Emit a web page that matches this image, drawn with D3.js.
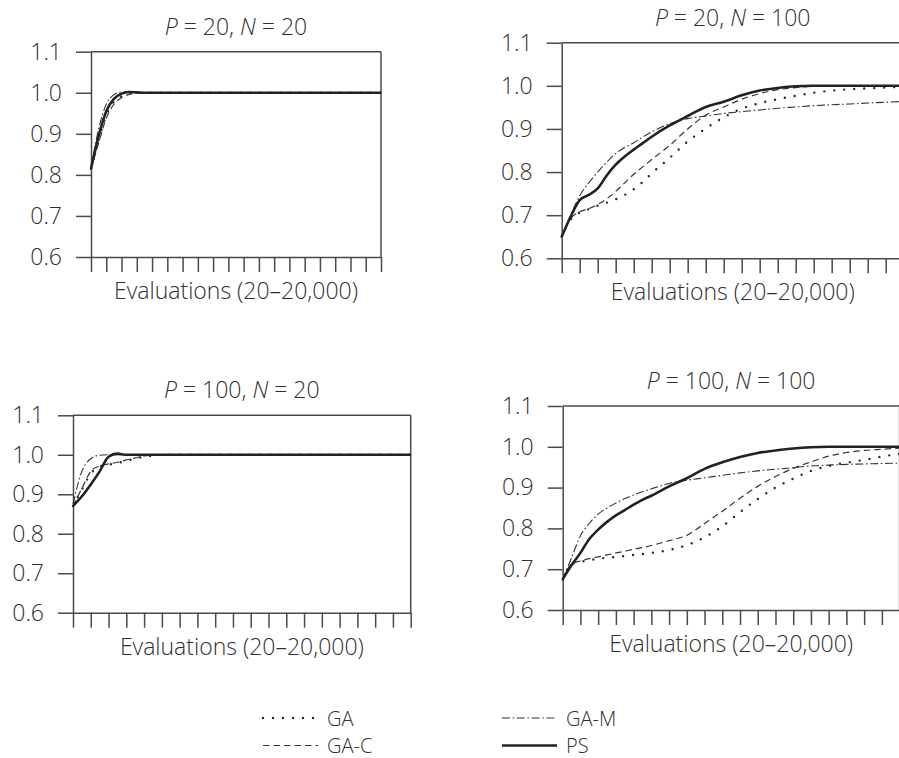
<!DOCTYPE html>
<html>
<head>
<meta charset="utf-8">
<script src="https://cdn.jsdelivr.net/npm/d3@7"></script>
<style>
  html, body { margin: 0; padding: 0; background: #fff; }
  svg { display: block; }
  text { font-family: "Open Sans", "Noto Sans", sans-serif; font-weight: 300; fill: #303030; }
</style>
</head>
<body>
<svg id="chart" width="899" height="758"></svg>
<script>
// Checkpoints along the run (one unit per tick on the evaluation axis)
const steps = [0, 0.5, 1, 1.5, 2, 2.5, 3, 3.5, 4, 4.5, 5, 6, 7, 8, 9, 10, 11, 12, 13, 14, 15, 16, 17, 18, 19];
const xTicks = [0, 1, 2, 3, 4, 5, 6, 7, 8, 9, 10, 11, 12, 13, 14, 15, 16, 17, 18, 19];
const yTicks = [0.6, 0.7, 0.8, 0.9, 1.0, 1.1];
const yTickLabels = ["0.6", "0.7", "0.8", "0.9", "1.0", "1.1"];
const methods = ["GA", "GA-C", "GA-M", "PS"];
const panelP = [20, 20, 100, 100];
const panelN = [20, 100, 20, 100];
const xLabel = "Evaluations (20\u201320,000)";

// P = 20, N = 20
const gaP20N20  = [0.815, 0.885, 0.945, 0.978, 0.992, 0.998, 1.0, 1.0, 1.0, 1.0, 1.0, 1.0, 1.0, 1.0, 1.0, 1.0, 1.0, 1.0, 1.0, 1.0, 1.0, 1.0, 1.0, 1.0, 1.0];
const gacP20N20 = [0.815, 0.878, 0.938, 0.972, 0.988, 0.996, 0.999, 1.0, 1.0, 1.0, 1.0, 1.0, 1.0, 1.0, 1.0, 1.0, 1.0, 1.0, 1.0, 1.0, 1.0, 1.0, 1.0, 1.0, 1.0];
const gamP20N20 = [0.815, 0.912, 0.972, 0.995, 1.002, 1.001, 1.0, 1.0, 1.0, 1.0, 1.0, 1.0, 1.0, 1.0, 1.0, 1.0, 1.0, 1.0, 1.0, 1.0, 1.0, 1.0, 1.0, 1.0, 1.0];
const psP20N20  = [0.815, 0.895, 0.955, 0.985, 0.998, 1.002, 1.001, 1.0, 1.0, 1.0, 1.0, 1.0, 1.0, 1.0, 1.0, 1.0, 1.0, 1.0, 1.0, 1.0, 1.0, 1.0, 1.0, 1.0, 1.0];

// P = 20, N = 100
const gaP20N100  = [0.650, 0.690, 0.706, 0.714, 0.722, 0.729, 0.737, 0.747, 0.760, 0.777, 0.797, 0.833, 0.871, 0.901, 0.927, 0.947, 0.960, 0.969, 0.977, 0.984, 0.989, 0.992, 0.994, 0.996, 0.998];
const gacP20N100 = [0.650, 0.692, 0.708, 0.715, 0.725, 0.738, 0.755, 0.775, 0.795, 0.812, 0.829, 0.862, 0.900, 0.932, 0.951, 0.969, 0.982, 0.991, 0.996, 0.999, 1.0, 1.0, 1.0, 1.0, 1.0];
const gamP20N100 = [0.650, 0.700, 0.745, 0.775, 0.800, 0.823, 0.843, 0.857, 0.868, 0.881, 0.893, 0.912, 0.924, 0.930, 0.936, 0.940, 0.944, 0.948, 0.951, 0.954, 0.956, 0.958, 0.960, 0.962, 0.964];
const psP20N100  = [0.650, 0.697, 0.735, 0.747, 0.762, 0.792, 0.817, 0.836, 0.852, 0.867, 0.882, 0.908, 0.930, 0.951, 0.963, 0.978, 0.989, 0.995, 0.999, 1.0, 1.0, 1.0, 1.0, 1.0, 1.0];

// P = 100, N = 20
const gaP100N20  = [0.870, 0.912, 0.952, 0.970, 0.975, 0.979, 0.985, 0.990, 0.995, 0.998, 1.0, 1.0, 1.0, 1.0, 1.0, 1.0, 1.0, 1.0, 1.0, 1.0, 1.0, 1.0, 1.0, 1.0, 1.0];
const gacP100N20 = [0.870, 0.915, 0.958, 0.972, 0.977, 0.981, 0.987, 0.992, 0.997, 0.999, 1.0, 1.0, 1.0, 1.0, 1.0, 1.0, 1.0, 1.0, 1.0, 1.0, 1.0, 1.0, 1.0, 1.0, 1.0];
const gamP100N20 = [0.875, 0.958, 0.990, 0.999, 1.0, 1.0, 1.0, 1.0, 1.0, 1.0, 1.0, 1.0, 1.0, 1.0, 1.0, 1.0, 1.0, 1.0, 1.0, 1.0, 1.0, 1.0, 1.0, 1.0, 1.0];
const psP100N20  = [0.870, 0.895, 0.925, 0.958, 0.995, 1.003, 1.0, 1.0, 1.0, 1.0, 1.0, 1.0, 1.0, 1.0, 1.0, 1.0, 1.0, 1.0, 1.0, 1.0, 1.0, 1.0, 1.0, 1.0, 1.0];

// P = 100, N = 100
const gaP100N100  = [0.675, 0.712, 0.718, 0.722, 0.726, 0.728, 0.730, 0.732, 0.735, 0.737, 0.740, 0.747, 0.759, 0.778, 0.805, 0.840, 0.872, 0.900, 0.922, 0.941, 0.953, 0.961, 0.968, 0.976, 0.983];
const gacP100N100 = [0.675, 0.713, 0.720, 0.726, 0.730, 0.735, 0.740, 0.744, 0.749, 0.753, 0.758, 0.770, 0.783, 0.812, 0.842, 0.874, 0.903, 0.927, 0.947, 0.963, 0.977, 0.986, 0.991, 0.994, 0.997];
const gamP100N100 = [0.675, 0.728, 0.782, 0.812, 0.835, 0.850, 0.862, 0.873, 0.882, 0.890, 0.897, 0.910, 0.918, 0.924, 0.930, 0.936, 0.941, 0.945, 0.949, 0.953, 0.955, 0.957, 0.958, 0.959, 0.960];
const psP100N100  = [0.675, 0.710, 0.740, 0.774, 0.797, 0.816, 0.832, 0.845, 0.858, 0.870, 0.880, 0.903, 0.923, 0.946, 0.962, 0.975, 0.985, 0.991, 0.996, 0.999, 1.0, 1.0, 1.0, 1.0, 1.0];

const seriesByPanel = [
  [gaP20N20, gacP20N20, gamP20N20, psP20N20],
  [gaP20N100, gacP20N100, gamP20N100, psP20N100],
  [gaP100N20, gacP100N20, gamP100N20, psP100N20],
  [gaP100N100, gacP100N100, gamP100N100, psP100N100]
];

// Frame of each small multiple
const frames = [
  { x0: 91,    x1: 381,   yTop: 51.7,  yBot: 257 },
  { x0: 561.7, x1: 903.7, yTop: 42.7,  yBot: 258.3 },
  { x0: 73,    x1: 410.7, yTop: 415.3, yBot: 612.7 },
  { x0: 562.7, x1: 899.6, yTop: 406,   yBot: 610 }
];

// Stroke style per method
const styles = {
  "GA":   { width: 2.4, dash: "0 10", cap: "round", color: "#2a2a2a" },
  "GA-C": { width: 1.2, dash: "6.5 4", cap: "butt", color: "#333" },
  "GA-M": { width: 1.1, dash: "8 2.6 1.6 2.6", cap: "butt", color: "#333" },
  "PS":   { width: 2.6, dash: null, cap: "butt", color: "#222" }
};

const svg = d3.select("#chart");
const axisColor = "#4a4a4a";
const tickLen = 15;
const fontSize = 23;
const legendFontSize = 20;

frames.forEach((f, pi) => {
  const x = d3.scaleLinear().domain([0, 19]).range([f.x0, f.x1]);
  const y = d3.scaleLinear().domain([0.6, 1.1]).range([f.yBot, f.yTop]);
  const g = svg.append("g");

  // Left axis with tick labels
  const left = g.append("g")
    .attr("transform", `translate(${f.x0},0)`)
    .call(d3.axisLeft(y).tickValues(yTicks).tickSizeInner(tickLen).tickSizeOuter(0)
      .tickPadding(14).tickFormat((d, i) => yTickLabels[i]));
  // Bottom axis, ticks pointing down, no labels
  const bottom = g.append("g")
    .attr("transform", `translate(0,${f.yBot})`)
    .call(d3.axisBottom(x).tickValues(xTicks).tickSizeInner(tickLen).tickSizeOuter(0).tickFormat(""));

  [left, bottom].forEach(a => {
    a.selectAll("path.domain").attr("stroke", axisColor).attr("stroke-width", 1.5);
    a.selectAll(".tick line").attr("stroke", axisColor).attr("stroke-width", 1.5);
  });
  left.selectAll(".tick text")
    .attr("font-size", fontSize)
    .attr("font-family", "'Open Sans', 'Noto Sans', sans-serif")
    .attr("font-weight", 300)
    .attr("fill", "#303030");

  // Top and right edges of the frame
  g.append("line")
    .attr("x1", x(0)).attr("x2", x(19)).attr("y1", y(1.1)).attr("y2", y(1.1))
    .attr("stroke", axisColor).attr("stroke-width", 1.5);
  g.append("line")
    .attr("x1", x(19)).attr("x2", x(19)).attr("y1", y(1.1)).attr("y2", y(0.6))
    .attr("stroke", axisColor).attr("stroke-width", 1.5);

  // Curves
  const line = d3.line()
    .x((d, i) => x(steps[i]))
    .y(d => y(d))
    .curve(d3.curveMonotoneX);

  methods.forEach((m, si) => {
    const st = styles[m];
    g.append("path")
      .datum(seriesByPanel[pi][si])
      .attr("d", line)
      .attr("fill", "none")
      .attr("stroke", st.color)
      .attr("stroke-width", st.width)
      .attr("stroke-linecap", st.cap)
      .attr("stroke-linejoin", "round")
      .attr("stroke-dasharray", st.dash);
  });

  // Panel title
  const cx = (x(0) + x(19)) / 2;
  const t = g.append("text")
    .attr("x", cx).attr("y", f.yTop - 17)
    .attr("text-anchor", "middle")
    .attr("font-size", fontSize);
  t.append("tspan").attr("font-style", "italic").text("P");
  t.append("tspan").text(` = ${panelP[pi]}, `);
  t.append("tspan").attr("font-style", "italic").text("N");
  t.append("tspan").text(` = ${panelN[pi]}`);

  // Axis label
  g.append("text")
    .attr("x", cx).attr("y", f.yBot + 42)
    .attr("text-anchor", "middle")
    .attr("font-size", fontSize)
    .text(xLabel);
});

// Legend: two columns of two entries each
const legendCols = [
  { x: 263, names: ["GA", "GA-C"] },
  { x: 502, names: ["GA-M", "PS"] }
];
const legendRowY = [718, 745.5];
const legend = svg.append("g");
legendCols.forEach(col => {
  col.names.forEach((name, r) => {
    const st = styles[name];
    legend.append("line")
      .attr("x1", col.x).attr("x2", col.x + 55)
      .attr("y1", legendRowY[r]).attr("y2", legendRowY[r])
      .attr("stroke", st.color)
      .attr("stroke-width", st.width)
      .attr("stroke-linecap", st.cap)
      .attr("stroke-dasharray", st.dash);
    legend.append("text")
      .attr("x", col.x + 64)
      .attr("y", legendRowY[r] + 7.5)
      .attr("font-size", legendFontSize)
      .text(name);
  });
});
</script>
</body>
</html>
